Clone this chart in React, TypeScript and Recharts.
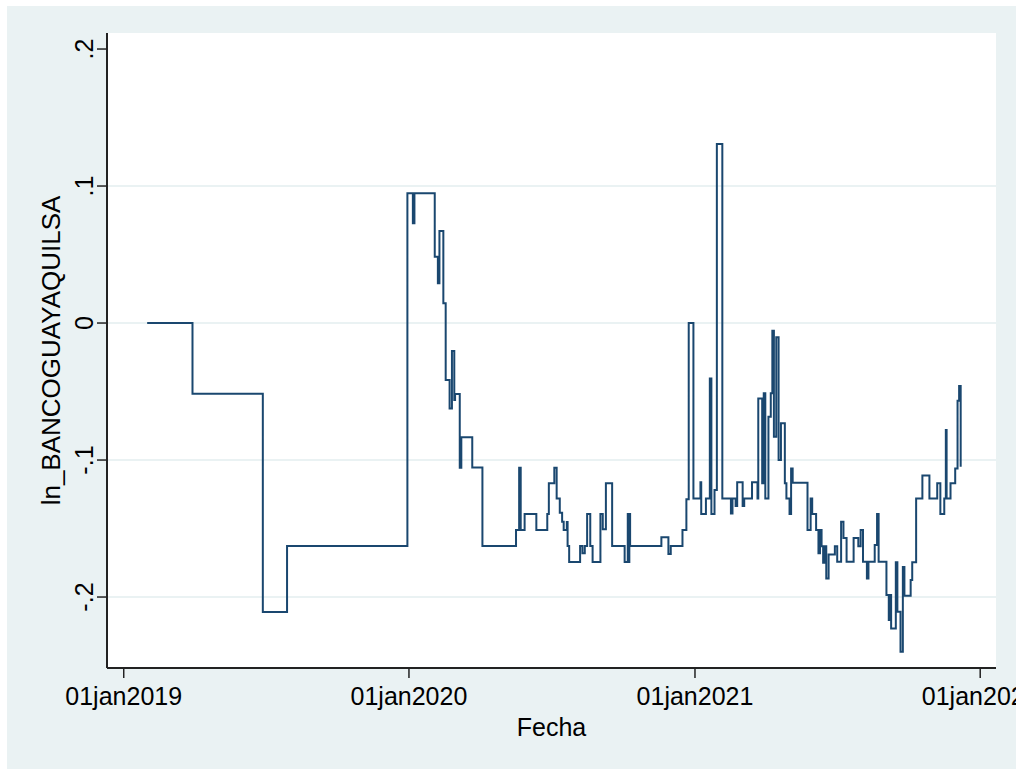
import React from 'react';
import { LineChart, Line, XAxis, YAxis, CartesianGrid, ReferenceLine } from 'recharts';

// Stata daily dates (days since 01jan1960) where the series changes value
const fecha = [
  21580, 21638, 21728, 21759, 21913, 21920, 21922, 21948, 21952, 21954,
  21959, 21962, 21967, 21970, 21973, 21974, 21980, 21982, 21996, 22009,
  22052, 22056, 22058, 22063, 22078, 22092, 22094, 22101, 22104, 22108,
  22111, 22113, 22117, 22118, 22120, 22134, 22137, 22140, 22143, 22147,
  22150, 22160, 22163, 22167, 22175, 22191, 22195, 22196, 22197, 22198,
  22238, 22247, 22250, 22265, 22270, 22273, 22279, 22288, 22289, 22295,
  22300, 22302, 22306, 22309, 22316, 22327, 22329, 22333, 22335, 22342,
  22344, 22354, 22361, 22362, 22367, 22369, 22371, 22375, 22378, 22380,
  22382, 22385, 22388, 22391, 22396, 22398, 22402, 22404, 22406, 22425,
  22429, 22431, 22436, 22439, 22441, 22443, 22445, 22447, 22449, 22452,
  22460, 22463, 22468, 22471, 22475, 22484, 22490, 22493, 22496, 22501,
  22503, 22511, 22514, 22516, 22526, 22529, 22531, 22532, 22538, 22540,
  22544, 22547, 22549, 22557, 22559, 22564, 22572, 22581, 22591, 22595,
  22600, 22602, 22603, 22608, 22614, 22617, 22619, 22621,
];

const lnBancoGuayaquil = [
  0, -0.0516, -0.211, -0.1628, 0.0947, 0.0728, 0.0947, 0.0484, 0.029, 0.0672,
  0.0144, -0.0416, -0.0623, -0.0204, -0.0562, -0.0518, -0.1056, -0.0834, -0.1054, -0.1628,
  -0.1511, -0.1056, -0.1511, -0.1394, -0.1511, -0.1394, -0.117, -0.1056, -0.128, -0.1385,
  -0.145, -0.1511, -0.1452, -0.1628, -0.1745, -0.1628, -0.168, -0.1628, -0.1394, -0.1628,
  -0.1745, -0.1394, -0.1506, -0.117, -0.1628, -0.1745, -0.1394, -0.1745, -0.1394, -0.1628,
  -0.1564, -0.1686, -0.1628, -0.1511, -0.1287, 0, -0.128, -0.1163, -0.1394, -0.128,
  -0.0404, -0.1394, -0.1219, 0.1307, -0.128, -0.139, -0.128, -0.1336, -0.1163, -0.1336,
  -0.128, -0.1163, -0.128, -0.055, -0.117, -0.0513, -0.128, -0.0684, -0.0513, -0.0056,
  -0.083, -0.0104, -0.1, -0.0732, -0.117, -0.128, -0.1394, -0.1061, -0.1166, -0.151,
  -0.128, -0.1394, -0.151, -0.168, -0.151, -0.163, -0.175, -0.163, -0.1864, -0.169,
  -0.163, -0.1742, -0.145, -0.157, -0.1742, -0.157, -0.163, -0.151, -0.1742, -0.1864,
  -0.1742, -0.162, -0.1394, -0.1742, -0.1985, -0.2168, -0.1985, -0.2229, -0.1747, -0.2107,
  -0.2399, -0.178, -0.199, -0.1876, -0.1747, -0.128, -0.1112, -0.128, -0.117, -0.1394,
  -0.128, -0.0781, -0.128, -0.117, -0.1061, -0.0567, -0.046, -0.1049,
];

// 01jan2019, 01jan2020, 01jan2021, 01jan2022
const xTicks = [21550, 21915, 22281, 22646];
const yTicks = [-0.2, -0.1, 0, 0.1, 0.2];
const gridValues = [-0.2, -0.1, 0, 0.1];

const data = fecha.map((f, i) => ({ fecha: f, ln: lnBancoGuayaquil[i] }));

const BG = '#EAF2F3';
const NAVY = '#1A476F';
const FONT = '"Liberation Sans", Arial, Helvetica, sans-serif';
const MONTHS = ['jan', 'feb', 'mar', 'apr', 'may', 'jun', 'jul', 'aug', 'sep', 'oct', 'nov', 'dec'];

// Stata %td style: 01jan2019
const fmtTd = (d: number) => {
  const dt = new Date(Date.UTC(1960, 0, 1) + d * 86400000);
  const dd = String(dt.getUTCDate()).padStart(2, '0');
  return `${dd}${MONTHS[dt.getUTCMonth()]}${dt.getUTCFullYear()}`;
};

// Stata drops the leading zero: .2, -.1
const fmtNum = (v: number) => {
  if (Math.abs(v) < 1e-9) return '0';
  const s = String(Math.round(v * 10) / 10);
  return s.replace(/^(-?)0\./, '$1.');
};

const XTick = (props: any) => {
  const { x, y, payload } = props;
  return (
    <text x={x} y={y + 25} textAnchor="middle" fontSize={25} fontFamily={FONT} fill="#000">
      {fmtTd(payload.value)}
    </text>
  );
};

const YTick = (props: any) => {
  const { x, y, payload } = props;
  const bx = x - 2;
  return (
    <text
      x={bx}
      y={y}
      textAnchor="middle"
      transform={`rotate(-90, ${bx}, ${y})`}
      fontSize={25}
      fontFamily={FONT}
      fill="#000"
    >
      {fmtNum(payload.value)}
    </text>
  );
};

export default function App() {
  return (
    <div
      style={{
        position: 'absolute',
        left: 7,
        top: 6,
        width: 1009,
        height: 763,
        background: BG,
        overflow: 'hidden',
      }}
    >
      <LineChart width={1009} height={763} data={data} margin={{ top: 27, right: 20, bottom: 0, left: 0 }}>
        <CartesianGrid vertical={false} horizontal={false} fill="#FFFFFF" />
        {gridValues.map((v) => (
          <ReferenceLine key={v} y={v} stroke={BG} strokeWidth={2} />
        ))}
        <XAxis
          dataKey="fecha"
          type="number"
          domain={[21528.6, 22666.2]}
          ticks={xTicks}
          allowDataOverflow
          height={101}
          tickSize={10}
          tick={<XTick />}
          axisLine={{ stroke: '#222', strokeWidth: 2 }}
          tickLine={{ stroke: '#222', strokeWidth: 1.5 }}
          label={{ value: 'Fecha', position: 'insideBottom', offset: 33, fontSize: 25, fontFamily: FONT, fill: '#000' }}
        />
        <YAxis
          type="number"
          domain={[-0.2518, 0.2117]}
          ticks={yTicks}
          allowDataOverflow
          width={100}
          tickSize={10}
          tick={<YTick />}
          axisLine={{ stroke: '#222', strokeWidth: 2 }}
          tickLine={{ stroke: '#222', strokeWidth: 1.5 }}
          label={{
            value: 'ln_BANCOGUAYAQUILSA',
            angle: -90,
            position: 'insideLeft',
            offset: 44,
            fontSize: 26,
            fontFamily: FONT,
            fill: '#000',
            style: { textAnchor: 'middle' },
          }}
        />
        <Line
          type="stepAfter"
          dataKey="ln"
          stroke={NAVY}
          strokeWidth={2}
          dot={false}
          activeDot={false}
          isAnimationActive={false}
        />
      </LineChart>
    </div>
  );
}
